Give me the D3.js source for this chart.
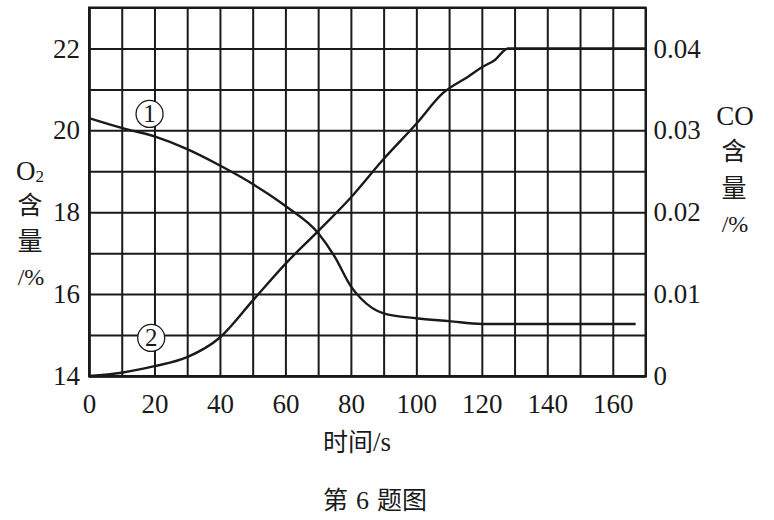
<!DOCTYPE html>
<html>
<head>
  <meta charset="utf-8">
  <title>O2 and CO content over time</title>
  <script src="https://cdn.jsdelivr.net/npm/d3@7"></script>
  <style>
    body { margin: 0; background: #fff; }
    .num text { font-family: "Liberation Serif", serif; font-size: 27px; fill: #1a1a1a; }
    .grid line, .grid path { stroke: #1a1a1a; stroke-width: 2; }
    .curve { fill: none; stroke: #1a1a1a; stroke-width: 2.4; }
    .cjk { font-family: "Noto Sans CJK SC", sans-serif; font-size: 25px; fill: #1a1a1a; }
    .serif { font-family: "Liberation Serif", serif; fill: #1a1a1a; }
  </style>
</head>
<body>
  <div id="chart"></div>
  <script>
    // curve 1: O2 content (%), left axis
    const o2Time = [0, 10, 20, 30, 40, 50, 55, 60, 70, 75, 80, 83, 90, 100, 110, 120, 167];
    const o2Value = [20.3, 20.06, 19.85, 19.54, 19.14, 18.69, 18.43, 18.15, 17.49, 16.92, 16.19, 15.9, 15.53, 15.41, 15.34, 15.27, 15.27];

    // curve 2: CO content (%), right axis
    const coTime = [0, 10, 20, 30, 40, 50, 60, 70, 80, 90, 100, 108, 116, 120, 124, 128, 170];
    const coValue = [0, 0.0004, 0.0012, 0.0023, 0.0047, 0.0092, 0.0137, 0.0177, 0.0218, 0.0265, 0.0308, 0.0345, 0.0366, 0.0377, 0.0386, 0.04, 0.04];

    const xTicks = [0, 20, 40, 60, 80, 100, 120, 140, 160];
    const leftTicks = [14, 16, 18, 20, 22];
    const rightTicks = [0, 0.01, 0.02, 0.03, 0.04];

    const W = 774, H = 520;
    const pL = 89, pT = 7.5, pR = 645.5, pB = 376;

    const svg = d3.select("#chart").append("svg")
      .attr("width", W).attr("height", H);

    const x = d3.scaleLinear().domain([0, 170]).range([pL, pR]);
    const y = d3.scaleLinear().domain([14, 23]).range([pB, pT]);
    const yR = d3.scaleLinear().domain([0, 0.045]).range([pB, pT]);

    // grid + left labels
    svg.append("g")
      .attr("class", "grid num")
      .attr("transform", `translate(${pL},0)`)
      .call(d3.axisLeft(y)
        .tickValues(d3.range(14, 24))
        .tickSize(-(pR - pL))
        .tickPadding(9)
        .tickFormat(d => leftTicks.includes(d) ? d : ""));

    // vertical grid + bottom labels
    svg.append("g")
      .attr("class", "grid num")
      .attr("transform", `translate(0,${pB})`)
      .call(d3.axisBottom(x)
        .tickValues(d3.range(0, 171, 10))
        .tickSize(-(pB - pT))
        .tickPadding(18)
        .tickFormat(d => xTicks.includes(d) ? d : ""));

    // right labels
    svg.append("g")
      .attr("class", "grid num")
      .attr("transform", `translate(${pR},0)`)
      .call(d3.axisRight(yR)
        .tickValues(rightTicks)
        .tickSize(0)
        .tickPadding(8)
        .tickFormat(d => d === 0 ? "0" : d.toFixed(2)))
      .call(g => g.select(".domain").remove());

    svg.selectAll(".num .tick text").attr("fill", "#1a1a1a");

    // frame
    svg.append("rect")
      .attr("x", pL).attr("y", pT)
      .attr("width", pR - pL).attr("height", pB - pT)
      .attr("fill", "none").attr("stroke", "#1a1a1a").attr("stroke-width", 2);

    const o2Line = d3.line()
      .x((d, i) => x(o2Time[i]))
      .y(d => y(d))
      .curve(d3.curveMonotoneX);
    const coLine = d3.line()
      .x((d, i) => x(coTime[i]))
      .y(d => yR(d))
      .curve(d3.curveMonotoneX);

    svg.append("path").attr("class", "curve").attr("d", o2Line(o2Value));
    svg.append("path").attr("class", "curve").attr("d", coLine(coValue));

    // circled curve numbers
    const marks = [{t: 18.5, v: 20.4, label: "1"}, {t: 19, v: 14.93, label: "2"}];
    marks.forEach(m => {
      svg.append("circle")
        .attr("cx", x(m.t)).attr("cy", y(m.v)).attr("r", 13.5)
        .attr("fill", "#fff").attr("stroke", "#1a1a1a").attr("stroke-width", 1.3);
      svg.append("text")
        .attr("class", "serif")
        .attr("x", x(m.t)).attr("y", y(m.v) + 8.5)
        .attr("text-anchor", "middle")
        .attr("font-size", 25)
        .text(m.label);
    });

    // left axis title
    const lt = svg.append("text").attr("class", "serif").attr("font-size", 27)
      .attr("x", 16).attr("y", 180);
    lt.append("tspan").text("O");
    lt.append("tspan").attr("font-size", 17).attr("dy", 2).text("2");
    svg.append("text").attr("class", "cjk").attr("x", 30).attr("y", 214)
      .attr("text-anchor", "middle").text("含");
    svg.append("text").attr("class", "cjk").attr("x", 30).attr("y", 250)
      .attr("text-anchor", "middle").text("量");
    svg.append("text").attr("class", "serif").attr("font-size", 24)
      .attr("x", 31).attr("y", 285).attr("text-anchor", "middle").text("/%");

    // right axis title
    svg.append("text").attr("class", "serif").attr("font-size", 27)
      .attr("x", 735).attr("y", 125).attr("text-anchor", "middle").text("CO");
    svg.append("text").attr("class", "cjk").attr("x", 734).attr("y", 160)
      .attr("text-anchor", "middle").text("含");
    svg.append("text").attr("class", "cjk").attr("x", 734).attr("y", 197)
      .attr("text-anchor", "middle").text("量");
    svg.append("text").attr("class", "serif").attr("font-size", 24)
      .attr("x", 735).attr("y", 232).attr("text-anchor", "middle").text("/%");

    // x title
    const xt = svg.append("text").attr("x", 323).attr("y", 451);
    xt.append("tspan").attr("class", "cjk").text("时间");
    xt.append("tspan").attr("class", "serif").attr("font-size", 27).text("/s");

    // caption
    const cap = svg.append("text").attr("x", 323).attr("y", 509);
    cap.append("tspan").attr("class", "cjk").text("第");
    cap.append("tspan").attr("class", "serif").attr("font-size", 26).attr("dx", 8).text("6");
    cap.append("tspan").attr("class", "cjk").attr("dx", 8).text("题图");
  </script>
</body>
</html>
